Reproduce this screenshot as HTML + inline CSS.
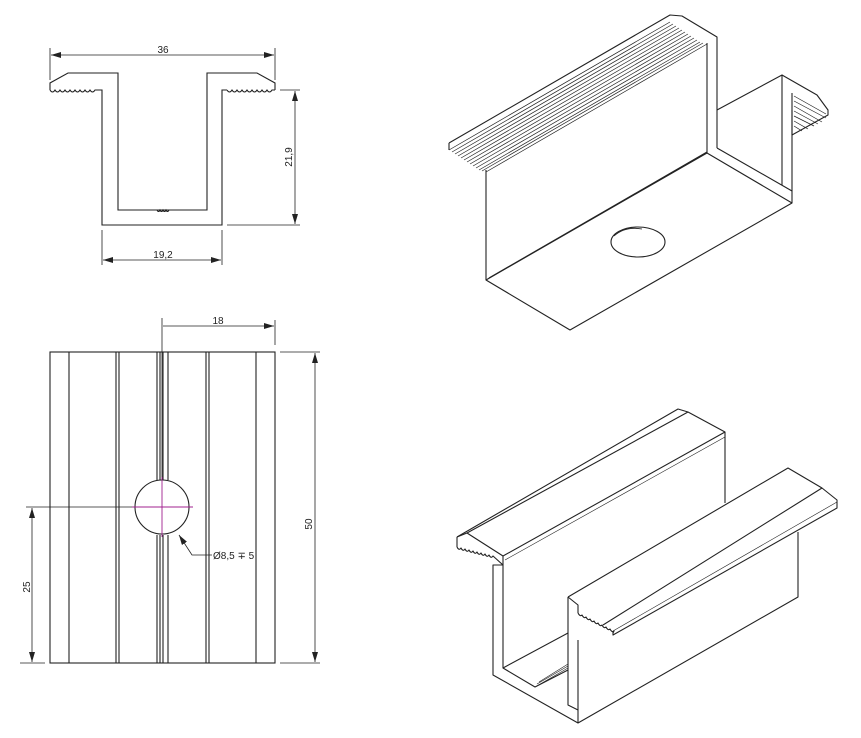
<!DOCTYPE html>
<html><head><meta charset="utf-8"><style>
html,body{margin:0;padding:0;background:#fff;}
svg{display:block;}
text{font-family:"Liberation Sans",sans-serif;font-size:10px;fill:#222;}
</style></head><body>
<svg width="861" height="738" viewBox="0 0 861 738" xmlns="http://www.w3.org/2000/svg">
<defs>
<marker id="a" viewBox="0 0 10 6" refX="10" refY="3" markerWidth="10" markerHeight="6" orient="auto-start-reverse" markerUnits="userSpaceOnUse"><path d="M0,0 L10,3 L0,6 z" fill="#222"/></marker>
</defs>
<g fill="none" stroke="#222" stroke-width="1.1">
<!-- Top-left profile -->
<path d="M98,90 L102,90 L102,225 L222,225 L222,90 L227,90"/>
<path d="M50,90 L50,83 L68,73 L118,73 L118,210 L207,210 L207,73 L257,73 L275,83 L275,90"/>
<path d="M50,90 q2.5,4 5,0 q2.5,4 5,0 q2.5,4 5,0 q2.5,4 5,0 q2.5,4 5,0 q2.5,4 5,0 q2.5,4 5,0 q2.5,4 5,0 q2.5,4 5,0 L98,90"/>
<path d="M227,90 q2.5,4 5,0 q2.5,4 5,0 q2.5,4 5,0 q2.5,4 5,0 q2.5,4 5,0 q2.5,4 5,0 q2.5,4 5,0 q2.5,4 5,0 q2.5,4 5,0 L275,90"/>
<path d="M157,210 q1.5,3 3,0 q1.5,3 3,0 q1.5,3 3,0 q1.5,3 3,0"/>
<g stroke-width="0.8">
<path d="M50,80 L50,48 M275,80 L275,48"/>
<path d="M51,55 L274,55" marker-start="url(#a)" marker-end="url(#a)"/>
<path d="M280,90 L300,90 M227,225 L300,225"/>
<path d="M295,91 L295,224" marker-start="url(#a)" marker-end="url(#a)"/>
<path d="M102,230 L102,265 M222,230 L222,265"/>
<path d="M103,260 L221,260" marker-start="url(#a)" marker-end="url(#a)"/>
</g>
</g>
<text x="163" y="53" text-anchor="middle">36</text>
<text x="163" y="258" text-anchor="middle">19,2</text>
<text x="292" y="157" text-anchor="middle" transform="rotate(-90 292 157)">21,9</text>

<!-- Bottom-left view -->
<g fill="none" stroke="#222" stroke-width="1.1">
<rect x="50" y="352" width="225" height="311"/>
<path d="M69,352V663 M116,352V663 M119,352V663 M157,352V480 M157,535V663 M160,352V480 M160,535V663 M163,352V480 M163,535V663 M168,352V480 M168,535V663 M206,352V663 M209,352V663 M256,352V663"/>
<circle cx="162" cy="507" r="27"/>
<g stroke-width="0.8">
<path d="M26,507 L135,507"/>
<path d="M162,318 L162,480"/>
<path d="M163,326 L274,326" marker-end="url(#a)"/>
<path d="M275,320 L275,345"/>
<path d="M280,352 L320,352 M280,663 L320,663"/>
<path d="M315,353 L315,662" marker-start="url(#a)" marker-end="url(#a)"/>
<path d="M20,663 L45,663"/>
<path d="M32,508 L32,662" marker-start="url(#a)" marker-end="url(#a)"/>
<path d="M212,555 L192,555 L179,535" marker-end="url(#a)"/>
</g>
</g>
<g stroke="#a0208f" stroke-width="0.9">
<path d="M132,507 L193,507 M162,477 L162,537"/>
</g>
<text x="218" y="324" text-anchor="middle">18</text>
<text x="213" y="559">Ø8,5 ∓ 5</text>
<text x="312" y="524" text-anchor="middle" transform="rotate(-90 312 524)">50</text>
<text x="30" y="587" text-anchor="middle" transform="rotate(-90 30 587)">25</text>

<!-- Top-right isometric -->
<g fill="none" stroke="#222" stroke-width="1.1" stroke-linejoin="round">
<path d="M449,143 L670,15 L682,16 L717,37 L717,110 L782,75 L782,185"/>
<path d="M449,143 L449,150"/>
<path d="M486,170 L486,280 L570,330 L792,203 L792,110"/>
<path d="M486,280 L707,153 L792,203"/>
<path d="M489,278 L707,152"/>
<path d="M717,148 L792,191"/>
<path d="M707,43 L707,153 M717,110 L717,148"/>
<path d="M782,75 L817,95 L828,110 L828,115 L792,135"/>
<path d="M792,93 L792,135"/>
<ellipse cx="638" cy="242" rx="27" ry="15"/>
<path d="M614,236 Q625,226 642,229" stroke-width="0.8"/>
<g stroke-width="0.7">
<path d="M449,150 L670,22 M452,152 L673,24 M455,154 L676,26 M458,156 L679,28 M461,158 L682,30 M464,160 L685,32 M467,162 L688,34 M470,164 L691,36 M473,166 L694,38 M476,168 L697,40 M479,170 L700,42 M482,171 L703,43 M486,172 L707,44"/>
<path d="M794,96 L826,114 M794,101 L826,118 M794,106 L822,122 M794,111 L818,124 M794,116 L814,126 M794,121 L808,129 M794,126 L802,131"/>
</g>
</g>

<!-- Bottom-right isometric -->
<g fill="none" stroke="#222" stroke-width="1.1" stroke-linejoin="round">
<path d="M457,537 L678,409 L688,412 L725,432 L725,503"/>
<path d="M457,537 L467,533 L503,556 L725,432"/>
<path d="M457,537 L457,547"/>
<path d="M457,547 q2,4 4,1 q2,4 4,1 q2,4 4,1 q2,4 4,1 q2,4 4,1 q2,4 4,1 q2,4 4,1 q2,4 4,1 q2,4 4,1 L503,565"/>
<path d="M467,533 L688,412"/>
<path d="M503,556 L503,565 L493,565 L493,675 L578,723 L798,597 L798,532"/>
<path d="M503,565 L503,668 L535,687 L568,670"/>
<path d="M503,668 L568,633"/>
<path d="M505,560 L725,437" stroke-width="0.6"/>
<path d="M568,597 L568,705 L578,710 M578,640 L578,723"/>
<path d="M568,597 L788,468 L822,488 L837,500 L837,508 L613,635 L613,631"/>
<path d="M568,597 L578,605 L578,613"/>
<path d="M578,613 q2,4 4,2 q2,4 4,2 q2,4 4,2 q2,4 4,2 q2,4 4,2 q2,4 4,2 q2,4 4,2 q2,4 4,2 q2,4 4,2 L613,633"/>
<path d="M603,625 L822,488"/>
<path d="M613,631 L837,502" stroke-width="0.6"/>
<path d="M535,687 L568,668 M537,684 L568,666 M539,682 L568,664" stroke-width="0.6"/>
</g>
</svg>
</body></html>
